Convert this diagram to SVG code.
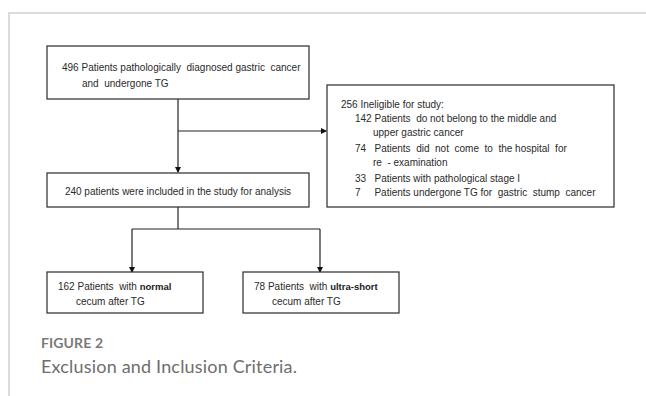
<svg xmlns="http://www.w3.org/2000/svg" width="646" height="396" viewBox="0 0 646 396">
<style>
.box{fill:#fff;stroke:#2a2a2a;stroke-width:1.2}
.t{font-family:"Liberation Sans",Arial,sans-serif;font-size:10px;fill:#2a2a2a;white-space:pre}
.b{font-size:9.5px;font-weight:bold;fill:#222}
.c{stroke:#222;stroke-width:1.2;fill:none}
.frame{stroke:#cfcfcf;stroke-width:1.5;fill:none}
.cap1{font-family:Lato,"Open Sans",sans-serif;font-weight:bold;font-size:14px;fill:#7a7a7a}
.cap2{font-family:Lato,"Open Sans",sans-serif;font-size:18px;fill:#6e6e6e}
</style>
<defs>
<marker id="ah" markerWidth="6" markerHeight="6" refX="5" refY="3" orient="auto" markerUnits="userSpaceOnUse">
<path d="M0,0 L6,3 L0,6 Z" fill="#111"/>
</marker>
</defs>
<rect width="646" height="396" fill="#fff"/>
<path class="frame" d="M9,396 V13 H646"/>

<g id="connectors">
<line class="c" x1="178" y1="98" x2="178" y2="172" marker-end="url(#ah)"/>
<line class="c" x1="178" y1="131" x2="326" y2="131" marker-end="url(#ah)"/>
<line class="c" x1="178" y1="207" x2="178" y2="229"/>
<line class="c" x1="132" y1="229" x2="320" y2="229"/>
<line class="c" x1="132" y1="229" x2="132" y2="272" marker-end="url(#ah)"/>
<line class="c" x1="320" y1="229" x2="320" y2="272" marker-end="url(#ah)"/>
</g>

<g id="n496">
<rect class="box" x="47" y="46" width="262" height="53"/>
<text class="t" x="62" y="71">496 Patients pathologically  diagnosed gastric  cancer</text>
<text class="t" x="82" y="87">and  undergone TG</text>
</g>

<g id="n256">
<rect class="box" x="327" y="85" width="287" height="122"/>
<text class="t" x="341" y="107.5">256 Ineligible for study:</text>
<text class="t" x="355" y="121.5">142 Patients  do not belong to the middle and</text>
<text class="t" x="373" y="135.5">upper gastric cancer</text>
<text class="t" x="355" y="151.5">74   Patients  did  not  come  to  the hospital  for</text>
<text class="t" x="373" y="165.5">re  - examination</text>
<text class="t" x="355" y="181.5">33   Patients with pathological stage I</text>
<text class="t" x="355" y="195.5">7     Patients undergone TG for  gastric  stump  cancer</text>
</g>

<g id="n240">
<rect class="box" x="47" y="173" width="262" height="34"/>
<text class="t" x="178" y="194.5" text-anchor="middle">240 patients were included in the study for analysis</text>
</g>

<g id="n162">
<rect class="box" x="47" y="272" width="156" height="41"/>
<text class="t" x="58" y="290">162 Patients  with <tspan class="b">normal</tspan></text>
<text class="t" x="76" y="305">cecum after TG</text>
</g>

<g id="n78">
<rect class="box" x="243" y="272" width="156" height="41"/>
<text class="t" x="254" y="290">78 Patients  with <tspan class="b">ultra-short</tspan></text>
<text class="t" x="272" y="305">cecum after TG</text>
</g>

<text class="cap1" x="41" y="348" textLength="62">FIGURE 2</text>
<text class="cap2" x="41" y="373" textLength="256">Exclusion and Inclusion Criteria.</text>
</svg>
